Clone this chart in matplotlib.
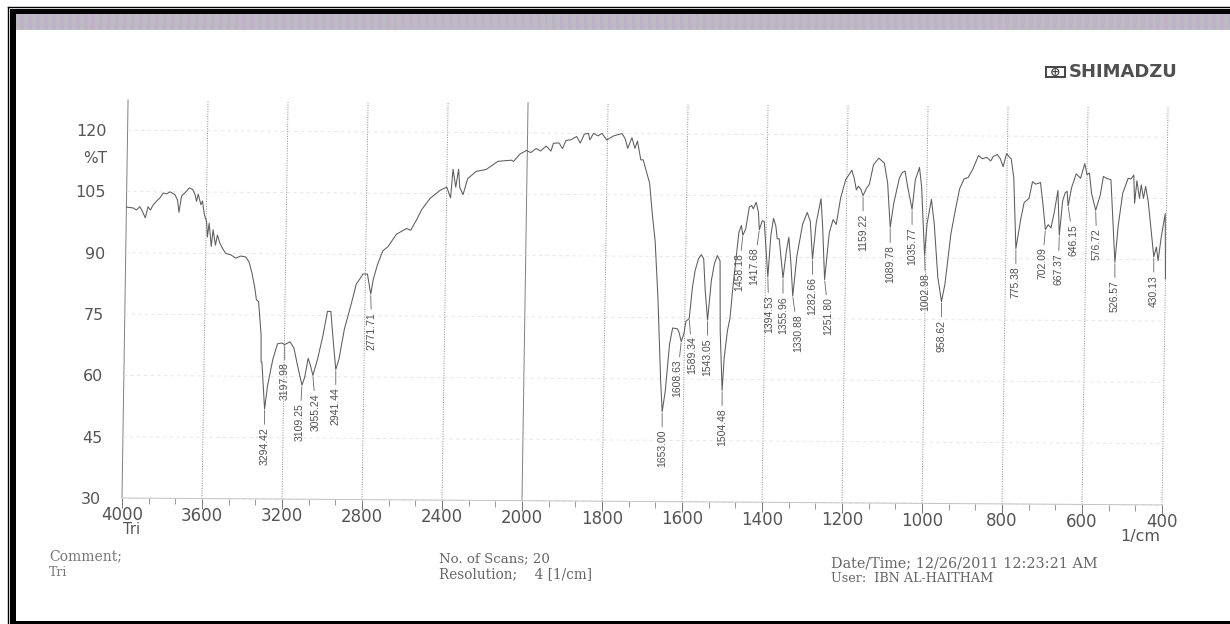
import numpy as np
from matplotlib import pyplot as plt
from matplotlib.patches import Rectangle
from matplotlib.transforms import Affine2D

# spectrum: wavenumber, %T
wavenumber = [4000,3967,3950,3933,3920,3905,3892,3880,3867,3850,3833,3817,3800,3783,3758,3745,3737,3725,3708,3687,3670,3658,3650,3642,3628,3620,3610,3598,3593,3585,3573,3565,3552,3543,3530,3517,3500,3475,3450,3425,3400,3383,3367,3353,3343,3332,3317,3315,3311,3294,3281,3256,3234,3214,3198,3172,3152,3132,3109,3096,3080,3067,3055,3033,3008,2987,2970,2957,2941,2926,2901,2868,2845,2812,2790,2772,2760,2740,2715,2690,2648,2598,2577,2548,2523,2483,2433,2400,2380,2370,2355,2342,2335,2318,2296,2254,2204,2146,2079,2068,2037,2005,
              1991,1978,1967,1953,1941,1935,1921,1912,1904,1891,1877,1868,1858,1848,1844,1835,1824,1814,1802,1785,1764,1756,1749,1739,1731,1725,1716,1710,1693,1685,1677,1668,1658,1653,1646,1637,1630,1618,1614,1608,1602,1597,1589,1582,1576,1568,1561,1555,1550,1543,1535,1528,1521,1514,1511,1504,1500,1493,1487,1481,1472,1468,1462,1458,1451,1443,1437,1433,1426,1420,1417,1410,1405,1394,1388,1382,1376,1372,1367,1356,1349,1343,1337,1331,1322,1309,1298,1290,1283,1275,1264,1259,1252,1242,1233,1225,1215,
              1203,1188,1182,1176,1171,1165,1159,1151,1144,1134,1121,1107,1098,1090,1082,1069,1062,1055,1048,1036,1029,1019,1013,1003,998,988,980,969,959,951,938,928,918,907,897,885,872,862,852,841,835,825,817,810,802,790,783,775,764,756,744,736,728,716,709,702,695,688,680,672,667,660,654,649,646,638,627,616,606,600,594,588,577,566,559,550,540,533,527,520,510,497,490,483,480,475,468,464,458,453,446,439,430,424,419,412,403,400]
transmittance = [101.2,101,100.5,101.3,100.2,98.6,101.3,100.5,101.7,102.7,103.5,104.7,104.5,105,104.3,103,100,104,104.8,106,105.6,104.4,102.7,104.5,101.9,102.8,99.5,97.8,94,97.4,91.7,95.8,92,94.5,92.5,91.3,90,89.7,88.9,89.4,89.2,88,85.2,81.9,78.7,78.3,70.1,63.5,63.5,52,57.7,64.3,68,68.2,67.8,68.5,67,62.6,57.9,59.8,64.5,62.6,60.3,64.3,70,76,76,69.3,61.8,64.3,71.7,78,82.7,85.2,85.2,80.3,84,87.6,90.9,91.9,95,96.4,96,98.6,101.1,103.8,105.8,106.6,104,111,106.6,111,106.6,104.8,108.7,110.5,111,113,113.3,113,114.8,115.7,
                 115.2,116.2,115.6,116.8,115.6,117.5,117.6,116.2,118.2,118.4,119.2,117.6,119.8,120,118.4,120,119.4,120,118.4,119.4,120,118.8,116.4,119,116.4,118.2,113.6,113.6,107.9,100.2,93.7,80,59.6,52,57.1,68.6,72.5,72.3,71.5,69.2,71,74.2,74.8,82.5,86.6,89.5,90.5,89.5,81.7,74.5,84.2,88.3,90.3,89,71.9,57.3,65.3,71.9,75,82.5,92,96,97.7,95.3,96.9,102.2,102.6,101.8,103.4,101,96.7,98.9,98.7,85.1,95.3,99.5,97.7,94.5,94.5,84.9,91.2,94.9,88.8,80.5,90.4,98.1,101,98.9,89.6,98.5,104.4,97.7,84.6,96.1,99.3,98.1,104.6,
                 109.1,111.4,109.5,106.6,107.5,106.8,105.2,107,107.9,112.8,114.4,113.2,108.3,97.5,103.4,109.5,110.9,111.3,107.5,101.9,109.1,112.2,107.5,90.7,98.4,104.4,98.4,85.3,79.4,83.7,96,101.7,107,109.5,109.8,112,115.2,114.4,114.8,113.9,115,115.5,114.4,112.5,115.7,114.4,109.9,92.5,99.7,103.8,104.8,108.9,108.3,108.7,103.4,97.2,98.4,97.6,101.7,106.8,95.8,104.2,106.2,106.6,103,107.5,110.9,109.8,113.4,110.7,111.1,106.2,102,105.8,110.3,109.8,109.5,98.4,89.3,98.4,106.2,109.9,109.7,110.7,103.8,109.3,105,108.3,105,107.9,104.2,98.4,90.7,93.1,89.8,95.6,101.3,85.3]

peak_labels = ["3294.42","3197.98","3109.25","3055.24","2941.44","2771.71","1653.00","1608.63","1589.34","1543.05","1504.48",
               "1458.18","1417.68","1394.53","1355.96","1330.88","1282.66","1251.80","1159.22","1089.78","1035.77","1002.98",
               "958.62","775.38","702.09","667.37","646.15","576.72","526.57","430.13"]
peak_wn = [3294,3198,3109,3055,2941,2772,1653,1608,1589,1543,1504,1458,1417,1394,1356,1331,1283,1252,1159,1090,1036,1003,959,775,702,667,646,577,527,430]
peak_t = [52,67.8,57.9,60.3,61.8,80.3,52,69.2,74.8,74.5,57.3,95.3,96.7,85.1,84.9,80.5,89.6,84.6,105.2,97.5,101.9,90.7,79.4,92.5,97.2,95.8,103,102,89.3,90.7]
# sideways nudge of each label, pixels
peak_dx = [0,0,-2,3,0,1,0,-4,3,0,0,-4,-5,1,0,5,0,4,0,0,0,1,0,0,-3,-1,5,1,0,0]

x_major = [4000,3600,3200,2800,2400,2000,1800,1600,1400,1200,1000,800,600,400]
x_minor = [3867,3733,3467,3333,3067,2933,2667,2533,2267,2133,1933,1867,1733,1667,1533,1467,1333,1267,1133,1067,933,867,733,667,533,467]
y_major = [30,45,60,75,90,105,120]

W, H = 1230, 624
fig = plt.figure(figsize=(W/100, H/100), dpi=100, facecolor='white')

# scan border and the striped band at the top
bg = fig.add_axes([0, 0, 1, 1])
bg.set_xlim(0, W)
bg.set_ylim(H, 0)
bg.axis('off')
stripes = np.tile([[0.77,0.69,0.80],[0.75,0.73,0.78],[0.72,0.76,0.73],[0.74,0.70,0.79]], (W//8, 1, 1)).reshape(1, -1, 3)
bg.imshow(stripes, extent=[14, W, 30, 14], aspect='auto', interpolation='nearest')
bg.fill_between([10, W], 9, 14, color='black', lw=0)
bg.fill_between([10, 16], 9, 624, color='black', lw=0)
bg.fill_between([10, W], 621, 624, color='black', lw=0)
bg.plot([8, W], [6.5, 6.5], color='black', lw=1)
bg.plot([8, 8], [6.5, 624], color='black', lw=1)
# logo box
bg.add_patch(Rectangle((1046, 67), 19, 10, fc='white', ec='#444444', lw=1.4))
bg.set_xlim(0, W)
bg.set_ylim(H, 0)

left, right, bottom, top = 122, 1162, 498, 100
ax = fig.add_axes([left/W, 1-bottom/H, (right-left)/W, (bottom-top)/H])
ax.patch.set_alpha(0)

# the x axis changes scale at 2000, 4000-2000 is squeezed by two
def fwd(v):
    v = np.asarray(v, dtype=float)
    return np.where(v <= 2000, v, 2000 + (v-2000)/2)

def inv(v):
    v = np.asarray(v, dtype=float)
    return np.where(v <= 2000, v, 2000 + (v-2000)*2)

ax.set_xscale('function', functions=(fwd, inv))
ax.set_xlim(4000, 400)
ax.set_ylim(30, 127.4)

# page was scanned slightly crooked
px, py = left, H-bottom
tilt = Affine2D().translate(-px, -py) + Affine2D.from_values(1, -0.0067, 0.0152, 1, 0, 0) + Affine2D().translate(px, py)
data_tr = ax.transData + tilt

ax.set_xticks(x_major, [str(v) for v in x_major])
ax.set_xticks(x_minor, minor=True)
ax.set_yticks(y_major, [str(v) for v in y_major])
ax.tick_params(axis='x', which='major', length=7, width=0.7, color='#777777', labelsize=12, labelcolor='#555555', pad=-1)
ax.tick_params(axis='x', which='minor', length=4, width=0.6, color='#888888')
ax.tick_params(axis='y', length=0, labelsize=11.5, labelcolor='#555555', pad=15)
ax.grid(True, axis='x', which='major', color='#888888', lw=0.7, ls=(0, (1, 1.5)))
ax.grid(True, axis='y', color='#e2e2e2', lw=0.6, ls=(0, (4, 4)))
for s in ax.spines.values():
    s.set_visible(False)

for axis in [ax.xaxis, ax.yaxis]:
    for tick in axis.get_major_ticks() + axis.get_minor_ticks():
        for art in [tick.gridline, tick.tick1line, tick.label1]:
            art.set_transform(art.get_transform() + tilt)
            art.set_clip_on(False)
for tick in ax.xaxis.get_major_ticks():
    if tick.get_loc() in (4000, 2000):
        tick.gridline.set_linestyle('-')
        tick.gridline.set_color('#808080')
        tick.gridline.set_linewidth(0.7)

ax.plot([4000, 400], [30, 30], color='#c4c4c4', lw=0.7, transform=data_tr, clip_on=False)
ax.plot(wavenumber, transmittance, color='#5c5c5c', lw=0.75, transform=data_tr, clip_on=False)
ax.text(4100, 113, '%T', transform=data_tr, ha='right', va='center', fontsize=11, color='#555555')

narrow = ['Liberation Sans Narrow', 'Liberation Sans']
for lab, w, t, dx in zip(peak_labels, peak_wn, peak_t, peak_dx):
    ax.annotate(lab, xy=(w, t), xycoords=data_tr, xytext=(dx, -18), textcoords='offset pixels',
                rotation=90, ha='center', va='top', fontsize=7.5, family=narrow, color='#505050',
                arrowprops=dict(arrowstyle='-', color='#666666', lw=0.6, shrinkA=0, shrinkB=1))

def page_text(x, y, s, **kw):
    fig.text(x/W, 1-y/H, s, va='center', color=kw.pop('color', '#555555'), **kw)

page_text(123, 529, 'Tri', fontsize=10.5)
page_text(1120, 536, '1/cm', fontsize=11.5)
page_text(49, 556, 'Comment;', fontsize=10, family='DejaVu Serif', color='#777777')
page_text(49, 572, 'Tri', fontsize=9, family='DejaVu Serif', color='#777777')
page_text(439, 559, 'No. of Scans; 20', fontsize=9.6, family='DejaVu Serif', color='#666666')
page_text(439, 574, 'Resolution;    4 [1/cm]', fontsize=9.8, family='DejaVu Serif', color='#666666')
page_text(831, 563, 'Date/Time; 12/26/2011 12:23:21 AM', fontsize=10.4, family='DejaVu Serif', color='#666666')
page_text(831, 578, 'User:  IBN AL-HAITHAM', fontsize=9.2, family='DejaVu Serif', color='#666666')
page_text(1069, 72, 'SHIMADZU', fontsize=13, weight='bold', color='#505050')
fig.text(1055.5/W, 1-72/H, '\u2295', fontsize=9, weight='bold', color='#444444', ha='center', va='center')

plt.savefig('out.png', dpi=100)
